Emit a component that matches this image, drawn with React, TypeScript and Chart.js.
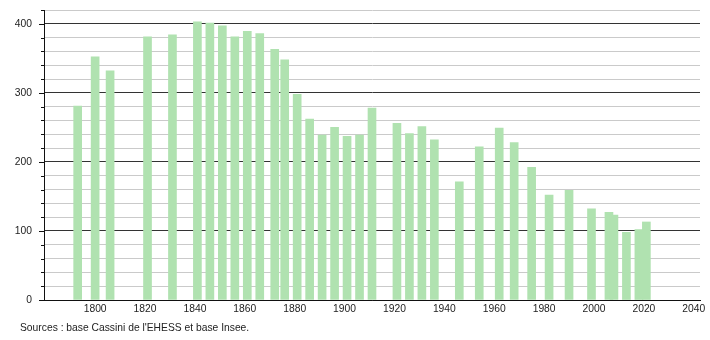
import React, { useEffect, useRef } from "react";
import { Chart, registerables } from "chart.js";

Chart.register(...registerables);

const years: number[] = [
  1793, 1800, 1806, 1821, 1831, 1841, 1846, 1851, 1856, 1861, 1866, 1872, 1876,
  1881, 1886, 1891, 1896, 1901, 1906, 1911, 1921, 1926, 1931, 1936, 1946, 1954,
  1962, 1968, 1975, 1982, 1990, 1999, 2006, 2008, 2013, 2018, 2021,
];
const population: number[] = [
  281, 352, 332, 381, 384, 403, 401, 397, 381, 389, 386, 363, 348,
  298, 262, 239, 250, 237, 239, 278, 256, 241, 251, 232, 171, 222,
  249, 228, 192, 152, 159, 132, 127, 123, 98, 102, 113,
];
const xTickYears: number[] = [1800, 1820, 1840, 1860, 1880, 1900, 1920, 1940, 1960, 1980, 2000, 2020, 2040];
const yLabelValues: number[] = [0, 100, 200, 300, 400];
const sourceText = "Sources : base Cassini de l'EHESS et base Insee.";

const FONT = "'Liberation Sans', Arial, sans-serif";
const FONT_SIZE = 10.3;

const extrasPlugin = {
  id: "extras",
  afterDraw(chart: any) {
    const { ctx, chartArea, scales } = chart;
    const y = scales.y;
    ctx.save();
    ctx.strokeStyle = "#111";
    ctx.lineWidth = 1;
    for (let v = 0; v <= 420; v += 20) {
      const py = Math.round(y.getPixelForValue(v)) + 0.5;
      const len = v % 100 === 0 ? 5 : 3;
      ctx.beginPath();
      ctx.moveTo(chartArea.left - len, py);
      ctx.lineTo(chartArea.left, py);
      ctx.stroke();
    }
    ctx.fillStyle = "#222";
    ctx.font = `${FONT_SIZE}px ${FONT}`;
    ctx.textBaseline = "middle";
    ctx.textAlign = "left";
    ctx.fillText(sourceText, 20, 328);
    ctx.restore();
  },
};

export default function App() {
  const ref = useRef<HTMLCanvasElement | null>(null);

  useEffect(() => {
    document.body.style.margin = "0";
    if (!ref.current) return;
    const chart = new Chart(ref.current, {
      type: "bar",
      data: {
        datasets: [
          {
            data: years.map((yr, i) => ({ x: yr, y: population[i] })),
            backgroundColor: "rgb(176, 226, 176)",
            borderWidth: 0,
            barThickness: 8,
          },
        ],
      },
      options: {
        responsive: false,
        animation: false,
        events: [],
        layout: { padding: { top: 10, right: 10, left: 0, bottom: 0 } },
        plugins: { legend: { display: false }, tooltip: { enabled: false } },
        scales: {
          x: {
            type: "linear",
            min: 1779.5,
            max: 2042.5,
            offset: false,
            grid: { display: false, drawTicks: false },
            border: { display: true, color: "#111", width: 1 },
            afterBuildTicks: (scale: any) => {
              scale.ticks = xTickYears.map((v) => ({ value: v }));
            },
            afterFit: (scale: any) => {
              scale.height = 40;
              scale.paddingLeft = 0;
              scale.paddingRight = 0;
            },
            ticks: {
              autoSkip: false,
              maxRotation: 0,
              padding: 3,
              color: "#222",
              font: { family: FONT, size: FONT_SIZE },
              callback: (v: any) => String(v),
            },
          },
          y: {
            type: "linear",
            min: 0,
            max: 420,
            afterBuildTicks: (scale: any) => {
              const t = [];
              for (let v = 0; v <= 420; v += 20) t.push({ value: v });
              scale.ticks = t;
            },
            afterFit: (scale: any) => {
              scale.width = 44;
              scale.paddingTop = 0;
              scale.paddingBottom = 0;
            },
            grid: {
              drawTicks: false,
              color: (c: any) => (c.tick && c.tick.value % 100 === 0 ? "#333" : "#cacaca"),
              lineWidth: 1,
            },
            border: { display: true, color: "#111", width: 1 },
            ticks: {
              autoSkip: false,
              padding: 12,
              color: "#222",
              font: { family: FONT, size: FONT_SIZE },
              callback: (v: any) => (yLabelValues.includes(Number(v)) ? String(v) : ""),
            },
          },
        },
      },
      plugins: [extrasPlugin],
    });
    return () => chart.destroy();
  }, []);

  return (
    <div style={{ position: "absolute", left: 0, top: 0, width: 710, height: 340 }}>
      <canvas ref={ref} width={710} height={340} style={{ width: 710, height: 340 }} />
    </div>
  );
}
